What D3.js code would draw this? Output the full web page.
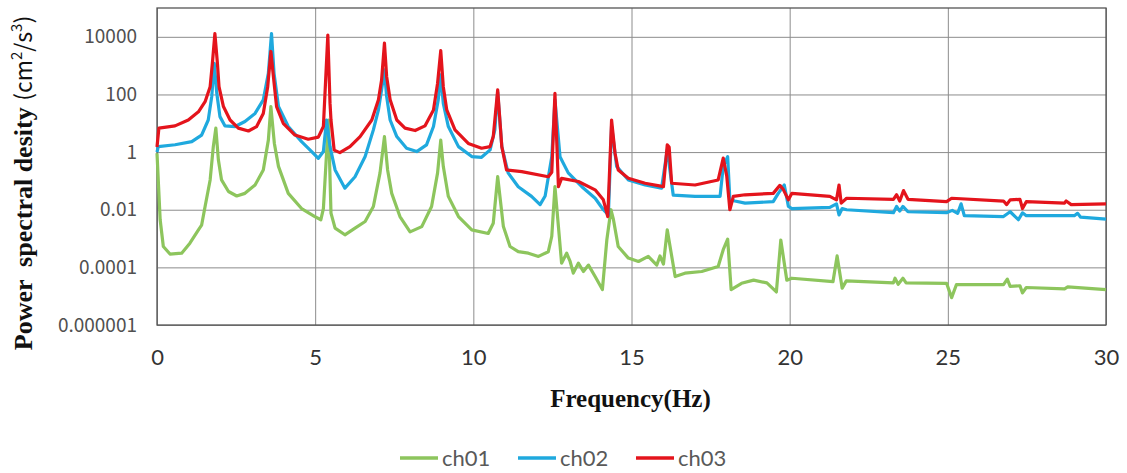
<!DOCTYPE html>
<html>
<head>
<meta charset="utf-8">
<script src="https://cdn.jsdelivr.net/npm/d3@7/dist/d3.min.js"></script>
<style>
  body { margin: 0; background: #fff; }
  svg { display: block; }
</style>
</head>
<body>
<script>
var width = 1127,
    height = 473;

var margin = {top: 8, right: 21, bottom: 148, left: 157};

// frequency ticks and psd ticks
var xTicks = [0, 5, 10, 15, 20, 25, 30];
var yTicks = [1e-6, 1e-4, 1e-2, 1, 100, 10000];
var yTickLabels = ["0.000001", "0.0001", "0.01", "1", "100", "10000"];

var seriesNames = ["ch01", "ch02", "ch03"];
var seriesColors = ["#8dc55d", "#1fa9de", "#e4141c"];

// [frequency (Hz), power spectral density]
var ch01 = [
  [0, 0.91], [0.1, 4.5e-3], [0.2, 5.3e-4], [0.41, 2.9e-4], [0.78, 3.1e-4], [1.04, 6.9e-4],
  [1.31, 2.0e-3], [1.41, 2.9e-3], [1.52, 0.013], [1.68, 0.108], [1.78, 1.55], [1.86, 6.8],
  [1.94, 0.54], [2.04, 0.108], [2.26, 0.043], [2.52, 0.030], [2.78, 0.037], [3.1, 0.072],
  [3.36, 0.24], [3.52, 2.6], [3.6, 38], [3.71, 2.0], [3.84, 0.32], [4.15, 0.037],
  [4.57, 0.011], [4.99, 5.8e-3], [5.18, 4.5e-3], [5.26, 0.011], [5.42, 13], [5.5, 7.6e-3],
  [5.63, 2.3e-3], [5.94, 1.35e-3], [6.26, 2.3e-3], [6.58, 3.9e-3], [6.84, 0.013], [7.05, 0.19],
  [7.19, 3.45], [7.29, 0.24], [7.42, 0.037], [7.68, 5.8e-3], [8.0, 1.7e-3], [8.37, 2.6e-3],
  [8.68, 0.013], [8.87, 0.19], [8.97, 2.6], [9.05, 0.32], [9.21, 0.029], [9.53, 5.8e-3],
  [9.95, 2.0e-3], [10.47, 1.5e-3], [10.63, 3.4e-3], [10.77, 0.14], [10.95, 2.6e-3], [11.16, 5.3e-4],
  [11.42, 3.5e-4], [11.74, 3.1e-4], [12.06, 2.4e-4], [12.37, 3.5e-4], [12.48, 1.2e-3], [12.58, 0.063],
  [12.69, 2.6e-3], [12.79, 1.4e-4], [12.95, 3.1e-4], [13.06, 1.6e-4], [13.16, 6.3e-5], [13.32, 1.4e-4],
  [13.48, 7.2e-5], [13.64, 1.2e-4], [13.85, 4.8e-5], [14.08, 1.7e-5], [14.22, 8.9e-4], [14.35, 0.01],
  [14.43, 4.5e-3], [14.58, 5.3e-4], [14.9, 2.1e-4], [15.22, 1.6e-4], [15.53, 2.4e-4], [15.8, 1.2e-4],
  [15.9, 2.5e-4], [16.01, 1.3e-4], [16.13, 2.0e-3], [16.27, 2.5e-4], [16.38, 4.8e-5], [16.69, 6.3e-5],
  [17.22, 7.2e-5], [17.74, 1.07e-4], [17.9, 4.1e-4], [18.04, 9.5e-4], [18.15, 1.7e-5], [18.48, 2.8e-5],
  [18.86, 3.6e-5], [19.28, 2.9e-5], [19.58, 1.4e-5], [19.72, 8.9e-4], [19.91, 3.6e-5], [20.07, 4.2e-5],
  [21.37, 3.2e-5], [21.5, 2.5e-4], [21.66, 1.9e-5], [21.79, 3.4e-5], [23.28, 2.9e-5], [23.33, 4.2e-5],
  [23.43, 2.6e-5], [23.58, 4.2e-5], [23.68, 2.9e-5], [24.96, 2.8e-5], [25.12, 8.9e-6], [25.27, 2.5e-5],
  [26.76, 2.5e-5], [26.88, 3.9e-5], [26.97, 2.2e-5], [27.28, 2.3e-5], [27.36, 1.3e-5], [27.48, 2.0e-5],
  [28.69, 1.8e-5], [28.79, 2.1e-5], [30, 1.7e-5]
];

var ch02 = [
  [0, 1.0], [0.04, 1.55], [0.57, 1.8], [1.1, 2.3], [1.41, 3.9], [1.62, 13], [1.73, 84],
  [1.81, 1200], [1.89, 110], [1.99, 17], [2.15, 8.1], [2.47, 7.7], [2.78, 11.5], [3.1, 22],
  [3.36, 65], [3.52, 540], [3.62, 13000], [3.7, 540], [3.84, 38], [4.15, 7.7], [4.57, 2.3],
  [4.89, 1.04], [5.1, 0.61], [5.26, 1.05], [5.36, 13], [5.47, 1.55], [5.63, 0.24], [5.94, 0.056],
  [6.26, 0.14], [6.58, 0.7], [6.84, 5.9], [7.0, 29], [7.1, 145], [7.19, 710], [7.26, 84],
  [7.37, 13], [7.58, 3.45], [7.89, 1.36], [8.21, 1.04], [8.52, 1.78], [8.74, 7.7], [8.89, 65],
  [8.97, 475], [9.05, 49], [9.21, 7.7], [9.53, 1.55], [9.95, 0.7], [10.26, 0.66], [10.53, 1.19],
  [10.68, 5.9], [10.77, 120], [10.9, 1.55], [11.1, 0.19], [11.42, 0.063], [11.84, 0.029], [12.11, 0.015],
  [12.27, 0.03], [12.48, 0.69], [12.58, 65], [12.74, 0.69], [13.0, 0.19], [13.43, 0.063], [13.85, 0.025],
  [14.11, 0.01], [14.27, 6.6e-3], [14.37, 8], [14.53, 0.32], [14.9, 0.108], [15.43, 0.072], [15.95, 0.056],
  [16.13, 1.19], [16.32, 0.032], [17.01, 0.029], [17.8, 0.029], [17.9, 0.32], [18.04, 0.69], [18.11, 0.022],
  [18.27, 0.02], [18.59, 0.017], [19.48, 0.019], [19.64, 0.037], [19.83, 0.072], [19.96, 0.013], [20.07, 0.011],
  [21.27, 0.012], [21.48, 0.016], [21.56, 0.0066], [21.66, 0.011], [21.8, 0.01], [23.28, 0.0079], [23.38, 0.013],
  [23.48, 0.009], [23.58, 0.013], [23.74, 0.0085], [24.96, 0.0079], [25.14, 0.0095], [25.31, 0.0075], [25.42, 0.016],
  [25.52, 0.0062], [26.76, 0.0058], [26.97, 0.0085], [27.23, 0.0045], [27.36, 0.0078], [27.48, 0.0062],
  [29.0, 0.0062], [29.1, 0.0075], [29.2, 0.0055], [30, 0.0047]
];

var ch03 = [
  [0, 1.5], [0.06, 6.8], [0.57, 8.1], [0.99, 13], [1.31, 25], [1.52, 56], [1.68, 186],
  [1.75, 1200], [1.83, 13000], [1.91, 1200], [1.96, 186], [2.1, 38], [2.31, 13], [2.57, 6.8],
  [2.89, 5.4], [3.15, 7.7], [3.36, 22], [3.5, 186], [3.6, 3100], [3.68, 415], [3.78, 38],
  [3.99, 10], [4.36, 3.9], [4.78, 2.8], [5.1, 3.3], [5.26, 7.7], [5.4, 11500], [5.47, 49],
  [5.5, 13], [5.6, 1.17], [5.78, 0.96], [6.1, 1.55], [6.42, 3.45], [6.79, 13], [7.0, 65],
  [7.1, 316], [7.19, 6000], [7.26, 415], [7.37, 65], [7.58, 13], [7.84, 6.8], [8.16, 5.6],
  [8.47, 8.1], [8.74, 29], [8.87, 245], [8.97, 3300], [9.05, 186], [9.16, 29], [9.42, 5.9],
  [9.84, 2.0], [10.26, 1.36], [10.53, 1.55], [10.63, 3.45], [10.77, 145], [10.9, 1.55], [11.05, 0.24],
  [11.53, 0.21], [12.37, 0.14], [12.48, 0.2], [12.58, 110], [12.69, 0.063], [12.79, 0.123], [13.32, 0.095],
  [13.85, 0.049], [14.11, 0.022], [14.25, 5.8e-3], [14.37, 13], [14.48, 0.91], [14.58, 0.24], [14.9, 0.123],
  [15.43, 0.083], [16.01, 0.063], [16.13, 1.78], [16.19, 1.5], [16.27, 0.083], [17.01, 0.072], [17.74, 0.108],
  [17.9, 0.62], [18.01, 0.15], [18.11, 0.01], [18.22, 0.029], [18.59, 0.033], [19.48, 0.037], [19.69, 0.07],
  [19.8, 0.05], [19.96, 0.022], [20.07, 0.037], [21.27, 0.029], [21.48, 0.022], [21.56, 0.072], [21.63, 0.017],
  [21.8, 0.025], [23.28, 0.023], [23.38, 0.033], [23.48, 0.02], [23.6, 0.046], [23.74, 0.023], [24.96, 0.019],
  [25.12, 0.025], [26.76, 0.02], [26.86, 0.015], [26.97, 0.022], [27.28, 0.023], [27.36, 0.011], [27.48, 0.019],
  [28.69, 0.017], [28.74, 0.02], [28.9, 0.015], [30, 0.016]
];

var series = [ch01, ch02, ch03];

var svg = d3.select("body").append("svg")
            .attr("width", width)
            .attr("height", height);

var plotW = width - margin.left - margin.right,
    plotH = height - margin.top - margin.bottom;

var x = d3.scaleLinear().domain([0, 30]).range([0, plotW]);
var y = d3.scaleLog().domain([1e-6, 1e5]).range([plotH, 0]);

var g = svg.append("g")
           .attr("transform", "translate(" + margin.left + "," + margin.top + ")");

// grid
g.append("g")
  .attr("class", "ygrid")
  .call(d3.axisLeft(y).tickValues(yTicks).tickSize(-plotW).tickFormat(""))
  .call(function(s) { s.select(".domain").remove(); })
  .selectAll("line")
  .attr("stroke", "#8c8c8c")
  .attr("stroke-width", 1);

g.append("g")
  .attr("class", "xgrid")
  .attr("transform", "translate(0," + plotH + ")")
  .call(d3.axisBottom(x).tickValues(xTicks).tickSize(-plotH).tickFormat(""))
  .call(function(s) { s.select(".domain").remove(); })
  .selectAll("line")
  .attr("stroke", "#8c8c8c")
  .attr("stroke-width", 1);

// plot border
g.append("rect")
  .attr("width", plotW)
  .attr("height", plotH)
  .attr("fill", "none")
  .attr("stroke", "#555")
  .attr("stroke-width", 1.3);

// tick labels
var yAxis = g.append("g")
  .call(d3.axisLeft(y).tickValues(yTicks).tickSize(0).tickPadding(20)
          .tickFormat(function(d, i) { return yTickLabels[i]; }));
yAxis.select(".domain").remove();
yAxis.selectAll("text")
  .attr("fill", "#505050")
  .style("font-family", "'Noto Sans CJK KR', sans-serif")
  .style("font-size", "19px");

var xAxis = g.append("g")
  .attr("transform", "translate(0," + plotH + ")")
  .call(d3.axisBottom(x).tickValues(xTicks).tickSize(0).tickPadding(24));
xAxis.select(".domain").remove();
xAxis.selectAll("text")
  .attr("fill", "#333")
  .style("font-family", "Lato, 'Open Sans', sans-serif")
  .style("font-size", "22px");

// lines
var line = d3.line()
  .x(function(d) { return x(d[0]); })
  .y(function(d) { return y(d[1]); });

g.selectAll("path.series")
  .data(series)
  .enter()
  .append("path")
  .attr("class", "series")
  .attr("d", line)
  .attr("fill", "none")
  .attr("stroke", function(d, i) { return seriesColors[i]; })
  .attr("stroke-width", 3.2)
  .attr("stroke-linejoin", "round");

// axis titles
svg.append("text")
  .attr("x", margin.left + plotW / 2 - 1)
  .attr("y", 407)
  .attr("text-anchor", "middle")
  .style("font-family", "'Liberation Serif', 'Times New Roman', serif")
  .style("font-weight", "bold")
  .style("font-size", "25px")
  .attr("fill", "#111")
  .text("Frequency(Hz)");

var yTitle = svg.append("text")
  .attr("transform", "translate(32,183)rotate(-90)")
  .attr("text-anchor", "middle")
  .attr("fill", "#111");

yTitle.append("tspan")
  .style("font-family", "'Liberation Serif', 'Times New Roman', serif")
  .style("font-weight", "bold")
  .style("font-size", "26px")
  .attr("xml:space", "preserve")
  .text("Power  spectral desity ");
var unit = yTitle.append("tspan")
  .style("font-family", "'Noto Sans CJK KR', sans-serif")
  .style("font-size", "23px");
unit.append("tspan").text("(cm");
unit.append("tspan").attr("dy", -10).style("font-size", "15px").text("2");
unit.append("tspan").attr("dy", 10).text("/s");
unit.append("tspan").attr("dy", -10).style("font-size", "15px").text("3");
unit.append("tspan").attr("dy", 10).text(")");

// legend
var legendX = [400, 518, 636];
var legend = svg.selectAll("g.legend")
  .data(seriesNames)
  .enter()
  .append("g")
  .attr("class", "legend")
  .attr("transform", function(d, i) { return "translate(" + legendX[i] + ",458)"; });

legend.append("line")
  .attr("x1", 0).attr("x2", 38)
  .attr("stroke", function(d, i) { return seriesColors[i]; })
  .attr("stroke-width", 3.5);

legend.append("text")
  .attr("x", 42)
  .attr("dy", "0.35em")
  .attr("fill", "#595959")
  .style("font-family", "Lato, 'Open Sans', sans-serif")
  .style("font-size", "22px")
  .text(function(d) { return d; });
</script>
</body>
</html>
